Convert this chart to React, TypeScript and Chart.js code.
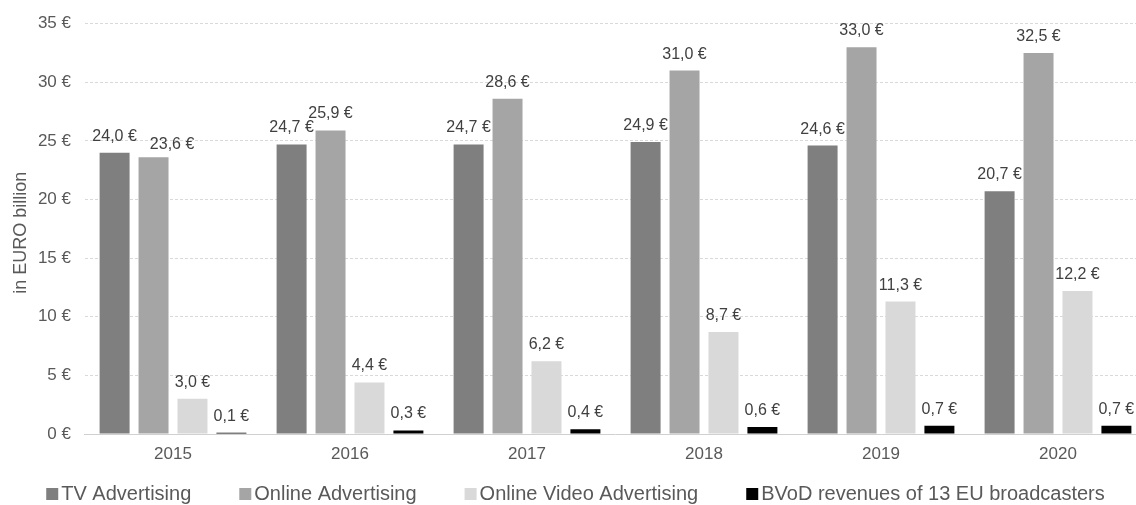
import React, { useEffect, useRef } from "react";
import { Chart, registerables } from "chart.js";

Chart.register(...registerables);

const years = ["2015", "2016", "2017", "2018", "2019", "2020"];
const tvAdvertising = [24.0, 24.7, 24.7, 24.9, 24.6, 20.7];
const onlineAdvertising = [23.6, 25.9, 28.6, 31.0, 33.0, 32.5];
const onlineVideoAdvertising = [3.0, 4.4, 6.2, 8.7, 11.3, 12.2];
const bvodRevenues = [0.1, 0.3, 0.4, 0.6, 0.7, 0.7];
const seriesNames = [
  "TV Advertising",
  "Online Advertising",
  "Online Video Advertising",
  "BVoD revenues of 13 EU broadcasters",
];
const seriesColors = ["#7f7f7f", "#a5a5a5", "#d9d9d9", "#000000"];
const yAxisTitle = "in EURO billion";
const yMin = 0;
const yMax = 35;
const yStep = 5;

const FONT = '"Liberation Sans", Arial, sans-serif';

const fmt = (v: number) => v.toFixed(1).replace(".", ",") + " €";

const valueLabels = {
  id: "valueLabels",
  afterDatasetsDraw(chart: any) {
    const ctx = chart.ctx;
    ctx.save();
    ctx.font = `16px ${FONT}`;
    ctx.fillStyle = "#404040";
    ctx.textAlign = "left";
    ctx.textBaseline = "alphabetic";
    const n = chart.data.labels.length;
    for (let i = 0; i < n; i++) {
      let prev: any = null;
      chart.data.datasets.forEach((ds: any, d: number) => {
        const el = chart.getDatasetMeta(d).data[i];
        if (!el) return;
        const text = fmt(ds.data[i]);
        const w = ctx.measureText(text).width;
        let l = el.x - w / 2;
        let y = el.y - 12;
        const box = { l, r: l + w, t: y - 12, b: y };
        if (prev && box.l < prev.r && box.t < prev.b && box.b > prev.t) {
          l = prev.r + 13;
          y += 4;
          box.l = l;
          box.r = l + w;
          box.t = y - 12;
          box.b = y;
        }
        ctx.fillText(text, l, y);
        prev = box;
      });
    }
    ctx.restore();
  },
};

const customDecor = {
  id: "customDecor",
  afterDraw(chart: any) {
    const ctx = chart.ctx;
    const area = chart.chartArea;
    ctx.save();
    // y axis title
    ctx.font = `18px ${FONT}`;
    ctx.fillStyle = "#595959";
    ctx.textAlign = "center";
    ctx.textBaseline = "middle";
    ctx.translate(21, (area.top + area.bottom) / 2 + 4);
    ctx.rotate(-Math.PI / 2);
    ctx.fillText(yAxisTitle, 0, 0);
    ctx.restore();

    // legend
    ctx.save();
    ctx.font = `20px ${FONT}`;
    ctx.textBaseline = "alphabetic";
    ctx.textAlign = "left";
    const box = 12;
    const gapText = 3;
    const gapItem = 48;
    const items = chart.data.datasets.map((ds: any) => ({
      label: ds.label,
      color: ds.backgroundColor,
      w: box + gapText + ctx.measureText(ds.label).width,
    }));
    const total =
      items.reduce((s: number, it: any) => s + it.w, 0) + gapItem * (items.length - 1);
    let x = chart.width / 2 - total / 2;
    const baseline = 500;
    items.forEach((it: any) => {
      ctx.fillStyle = it.color;
      ctx.fillRect(x, baseline - 12, box, box);
      ctx.fillStyle = "#595959";
      ctx.fillText(it.label, x + box + gapText, baseline);
      x += it.w + gapItem;
    });
    ctx.restore();
  },
};

export default function App() {
  const ref = useRef<HTMLCanvasElement | null>(null);
  useEffect(() => {
    if (!ref.current) return;
    const seriesValues = [tvAdvertising, onlineAdvertising, onlineVideoAdvertising, bvodRevenues];
    const chart = new Chart(ref.current, {
      type: "bar",
      data: {
        labels: years,
        datasets: seriesValues.map((vals, i) => ({
          label: seriesNames[i],
          data: vals,
          backgroundColor: seriesColors[i],
          borderWidth: 0,
          categoryPercentage: 0.88,
          barPercentage: 0.77,
        })),
      },
      options: {
        animation: false,
        responsive: true,
        maintainAspectRatio: false,
        layout: { padding: { top: 21.5, right: 4.5, left: 0, bottom: 0 } },
        plugins: {
          legend: { display: false },
          tooltip: { enabled: false },
          title: { display: false },
        },
        scales: {
          x: {
            grid: { display: false, drawTicks: false },
            border: { display: true, color: "#d0d0d0", width: 1 },
            ticks: {
              color: "#595959",
              font: { family: FONT, size: 17 },
              padding: 10,
            },
            afterFit: (s: any) => {
              s.height = 71;
            },
          },
          y: {
            min: yMin,
            max: yMax,
            grid: {
              drawTicks: false,
              color: (c: any) => (c.tick && c.tick.value === 0 ? "rgba(0,0,0,0)" : "#d9d9d9"),
              lineWidth: 1,
            },
            border: { display: false, dash: [3, 2] },
            ticks: {
              stepSize: yStep,
              color: "#595959",
              font: { family: FONT, size: 17 },
              padding: 13.5,
              callback: (v: any) => `${v} €`,
            },
            afterFit: (s: any) => {
              s.width = 84.5;
            },
          },
        },
      },
      plugins: [valueLabels, customDecor],
    });
    return () => chart.destroy();
  }, []);
  return (
    <div
      style={{
        position: "fixed",
        left: 0,
        top: 0,
        width: 1136,
        height: 505,
        overflow: "hidden",
        background: "#fff",
      }}
    >
      <div style={{ position: "relative", width: 1151, height: 505 }}>
        <canvas ref={ref} />
      </div>
    </div>
  );
}
